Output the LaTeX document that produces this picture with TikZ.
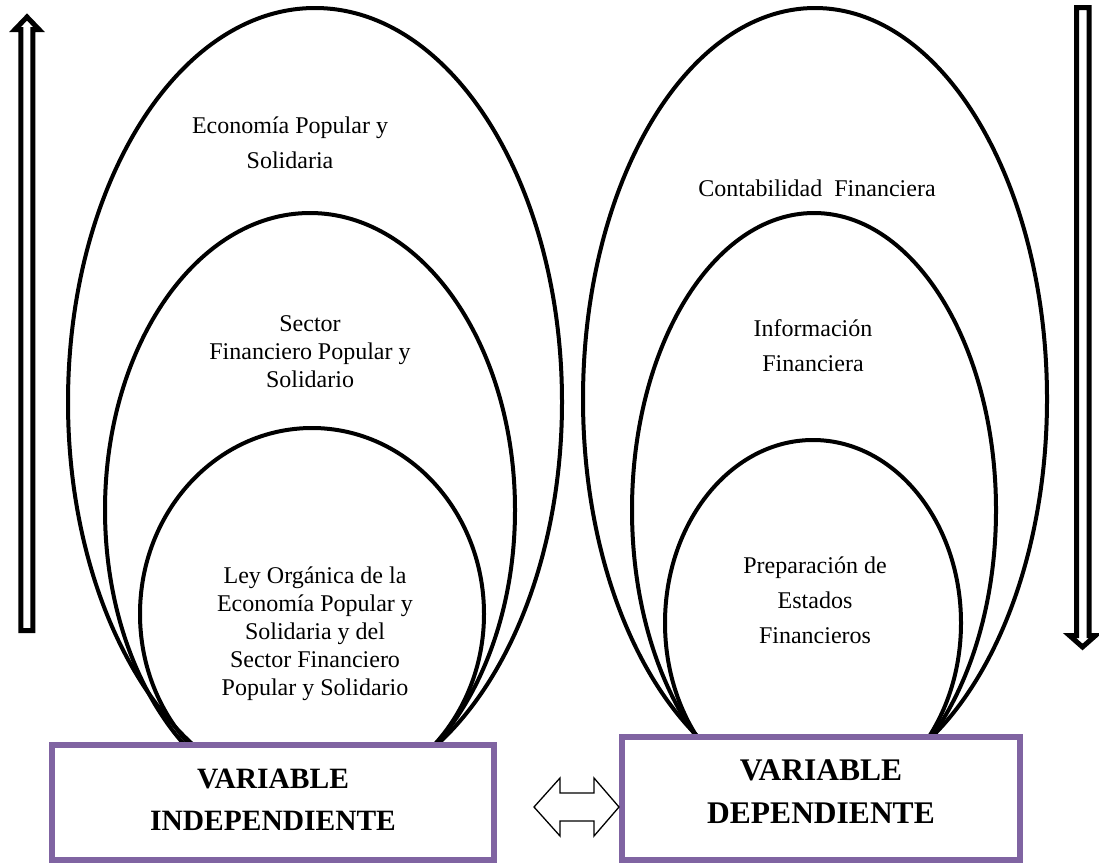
\documentclass[tikz,border=0pt]{standalone}
\usepackage{fontspec}
\setmainfont{Liberation Serif}
\usetikzlibrary{shapes.geometric}
\definecolor{vpurple}{HTML}{8064A2}
\begin{document}
\begin{tikzpicture}[x=1pt,y=-1pt,
  ell/.style={draw=black, line width=4pt, ellipse, inner sep=0pt, outer sep=0pt},
  vbox/.style={draw=vpurple, line width=5.5pt, fill=white, rectangle, inner sep=0pt},
  vtext/.style={font=\fontsize{29.5}{42}\selectfont\bfseries, align=center, inner sep=0pt},
  vtextb/.style={font=\fontsize{31.5}{43}\selectfont\bfseries, align=center, inner sep=0pt},
  lbl/.style={font=\fontsize{24}{28}\selectfont, align=center, inner sep=0pt},
  lblw/.style={font=\fontsize{24}{35}\selectfont, align=center, inner sep=0pt},
  bigarrow/.style={draw=black, line width=5pt, fill=white, miter limit=10},
  dblarrow/.style={draw=black, line width=1.3pt, fill=white}]
\useasboundingbox (0,0) rectangle (1099,865);

% left group of ellipses
\node[ell, minimum width=494pt, minimum height=788pt] (lo) at (315,402) {};
\node[ell, minimum width=410pt, minimum height=594pt] (lm) at (310,510) {};
\node[ell, minimum width=344pt, minimum height=372pt] (li) at (312,614) {};
% right group of ellipses
\node[ell, minimum width=464pt, minimum height=782pt] (ro) at (815,399) {};
\node[ell, minimum width=364pt, minimum height=594pt] (rm) at (814,510) {};
\node[ell, minimum width=296pt, minimum height=366pt] (ri) at (813,623) {};

% boxes
\node[vbox, minimum width=442pt, minimum height=115pt] (vi) at (273,802.5) {};
\node[vbox, minimum width=398pt, minimum height=123pt] (vd) at (821,798.5) {};
\node[vtext] (vit) at (273,800) {VARIABLE\\INDEPENDIENTE};
\node[vtextb] (vdt) at (821,792) {VARIABLE\\DEPENDIENTE};

% double arrow between boxes
\draw[dblarrow] (534,807) -- (560,778) -- (560,793) -- (594,793) -- (594,778)
  -- (619,807) -- (594,836) -- (594,821) -- (560,821) -- (560,836) -- cycle;

% up arrow (left)
\draw[bigarrow] (20.8,630.5) -- (20.8,29.5) -- (15,29.5) -- (27,17) -- (39,29.5)
  -- (32.9,29.5) -- (32.9,630.5) -- cycle;
% down arrow (right)
\draw[bigarrow] (1076.7,7.5) -- (1076.7,635.5) -- (1069.5,635.5) -- (1082.5,647)
  -- (1095.5,635.5) -- (1089,635.5) -- (1089,7.5) -- cycle;

% labels
\node[lblw] (t1) at (290,143) {Economía Popular y\\Solidaria};
\node[lbl] (t2) at (310,352) {Sector\\Financiero Popular y\\Solidario};
\node[lbl] (t3) at (315,634) {Ley Orgánica de la\\Economía Popular y\\Solidaria y del\\Sector Financiero\\Popular y Solidario};
\node[lbl] (t4) at (817,188) {Contabilidad\ \ Financiera};
\node[lblw] (t5) at (813,346) {Información\\Financiera};
\node[lblw] (t6) at (815,600) {Preparación de\\Estados\\Financieros};
\end{tikzpicture}
\end{document}
